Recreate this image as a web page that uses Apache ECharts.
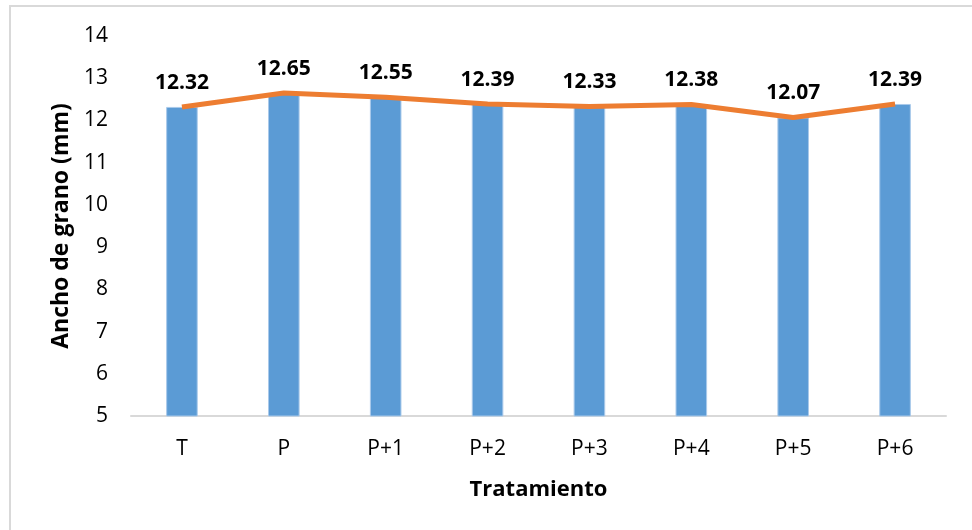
<!DOCTYPE html>
<html>
<head>
<meta charset="utf-8">
<script src="https://cdn.jsdelivr.net/npm/echarts@6/dist/echarts.min.js"></script>
<style>
  html, body { margin: 0; padding: 0; background: #ffffff; }
  #chart { width: 972px; height: 530px; }
</style>
</head>
<body>
<div id="chart"></div>
<script>
// Ancho de grano por tratamiento
const categories = ['T', 'P', 'P+1', 'P+2', 'P+3', 'P+4', 'P+5', 'P+6'];
const barValues = [12.32, 12.65, 12.55, 12.39, 12.33, 12.38, 12.07, 12.39];
const lineValues = [12.32, 12.65, 12.55, 12.39, 12.33, 12.38, 12.07, 12.39];

const FONT = '"Open Sans", "Liberation Sans", sans-serif';

const chart = echarts.init(document.getElementById('chart'), null, { renderer: 'canvas' });

chart.setOption({
  animation: false,
  backgroundColor: '#ffffff',
  graphic: [{
    type: 'rect',
    shape: { x: 10, y: 6, width: 990, height: 560 },
    style: { fill: 'none', stroke: '#d9d9d9', lineWidth: 2 },
    silent: true
  }],
  grid: { left: 131, right: 26, top: 36, bottom: 114 },
  xAxis: {
    type: 'category',
    data: categories,
    name: 'Tratamiento',
    nameLocation: 'middle',
    nameGap: 63,
    nameTextStyle: { fontFamily: FONT, fontSize: 22, fontWeight: 'bold', color: '#000000' },
    axisLine: { lineStyle: { color: '#d9d9d9', width: 2 } },
    axisTick: { show: false },
    axisLabel: { fontFamily: FONT, fontSize: 21, color: '#000000', margin: 23 }
  },
  yAxis: {
    type: 'value',
    min: 5,
    max: 14,
    interval: 1,
    name: 'Ancho de grano (mm)',
    nameLocation: 'middle',
    nameGap: 54,
    nameTextStyle: { fontFamily: FONT, fontSize: 23, fontWeight: 'bold', color: '#000000' },
    axisLine: { show: false },
    axisTick: { show: false },
    splitLine: { show: false },
    axisLabel: { fontFamily: FONT, fontSize: 21, color: '#000000', margin: 23 }
  },
  series: [
    {
      type: 'bar',
      data: barValues,
      barWidth: '31%',
      itemStyle: { color: '#5b9bd5', borderColor: '#a9c9ea', borderWidth: 1 }
    },
    {
      type: 'line',
      data: lineValues,
      symbol: 'circle',
      symbolSize: 1,
      showSymbol: true,
      itemStyle: { color: 'rgba(237,125,49,0)' },
      lineStyle: { color: '#ed7d31', width: 5 },
      label: {
        show: true,
        position: 'top',
        distance: 13,
        fontFamily: FONT,
        fontSize: 21,
        fontWeight: 'bold',
        color: '#000000',
        formatter: p => p.value.toFixed(2)
      },
      z: 3
    }
  ]
});
</script>
</body>
</html>
